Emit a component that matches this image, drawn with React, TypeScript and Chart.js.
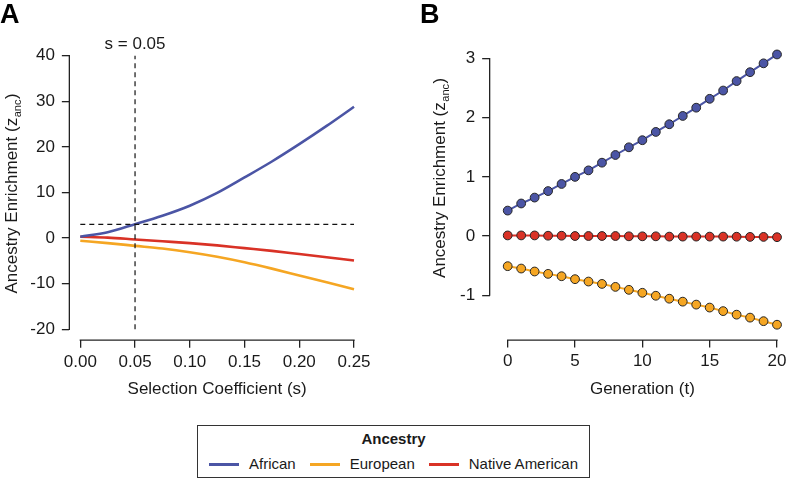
import React, { useEffect, useRef } from "react";
import { Chart, registerables } from "chart.js";

Chart.register(...registerables);

const FONT = "'Liberation Sans', Arial, Helvetica, sans-serif";
const TEXT = "#1a1a1a";
const AXIS = "#222222";

// Legend / series
const ANCESTRIES = ["African", "European", "Native American"];
const COLORS = ["#4B55A5", "#F5A623", "#D93226"];
const LEGEND_TITLE = "Ancestry";

// Panel A: enrichment vs selection coefficient
const SEL_COEF = [0, 0.025, 0.05, 0.075, 0.1, 0.125, 0.15, 0.175, 0.2, 0.225, 0.25];
const A_AFRICAN = [0.3, 1.3, 3.05, 4.9, 7.1, 9.9, 13.3, 16.8, 20.6, 24.6, 28.8];
const A_EUROPEAN = [-0.6, -1.1, -1.7, -2.3, -3.1, -4.1, -5.3, -6.7, -8.2, -9.7, -11.2];
const A_NATIVE = [0.3, 0.1, -0.3, -0.7, -1.1, -1.6, -2.2, -2.8, -3.5, -4.2, -4.9];
const S_THRESHOLD = 0.05;
const Z_THRESHOLD = 3;
const A_X_TICKS = [0, 0.05, 0.1, 0.15, 0.2, 0.25];
const A_Y_TICKS = [-20, -10, 0, 10, 20, 30, 40];
const A_X_TITLE = "Selection Coefficient (s)";
const S_LABEL = "s = 0.05";

// Panel B: enrichment vs generation
const GENERATIONS = [0, 1, 2, 3, 4, 5, 6, 7, 8, 9, 10, 11, 12, 13, 14, 15, 16, 17, 18, 19, 20];
const B_AFRICAN = [0.43, 0.55, 0.65, 0.76, 0.88, 1.0, 1.11, 1.24, 1.37, 1.5, 1.62, 1.76, 1.89, 2.03, 2.17, 2.32, 2.46, 2.62, 2.77, 2.92, 3.07];
const B_EUROPEAN = [-0.51, -0.55, -0.6, -0.64, -0.68, -0.73, -0.77, -0.81, -0.86, -0.91, -0.96, -1.01, -1.06, -1.11, -1.16, -1.21, -1.27, -1.33, -1.38, -1.44, -1.5];
const B_NATIVE = [0.01, 0.01, 0.01, 0.005, 0.005, 0, 0, 0, 0, -0.005, -0.005, -0.005, -0.01, -0.01, -0.01, -0.01, -0.01, -0.012, -0.015, -0.015, -0.02];
const B_X_TICKS = [0, 5, 10, 15, 20];
const B_Y_TICKS = [-1, 0, 1, 2, 3];
const B_X_TITLE = "Generation (t)";

const Y_TITLE_MAIN = "Ancestry Enrichment (z";
const Y_TITLE_SUB = "anc";
const Y_TITLE_END = ")";

function pts(xs: number[], ys: number[]) {
  return xs.map((x, i) => ({ x, y: ys[i] }));
}

function decorPlugin(o: {
  id: string;
  letter: string;
  letterX: number;
  yTitleX: number;
  xTitle: string;
  xTicks: number[];
  yTicks: number[];
  extra?: (chart: any) => void;
}) {
  return {
    id: o.id,
    afterDraw(chart: any) {
      const ctx = chart.ctx as CanvasRenderingContext2D;
      const ca = chart.chartArea;
      const xs = chart.scales.x;
      const ys = chart.scales.y;
      ctx.save();
      // axis lines over tick span
      ctx.strokeStyle = AXIS;
      ctx.lineWidth = 1.3;
      ctx.lineCap = "square";
      ctx.beginPath();
      ctx.moveTo(ca.left, ys.getPixelForValue(o.yTicks[0]));
      ctx.lineTo(ca.left, ys.getPixelForValue(o.yTicks[o.yTicks.length - 1]));
      ctx.stroke();
      ctx.beginPath();
      ctx.moveTo(xs.getPixelForValue(o.xTicks[0]), ca.bottom);
      ctx.lineTo(xs.getPixelForValue(o.xTicks[o.xTicks.length - 1]), ca.bottom);
      ctx.stroke();

      ctx.fillStyle = TEXT;
      // x title
      const xc = (xs.getPixelForValue(o.xTicks[0]) + xs.getPixelForValue(o.xTicks[o.xTicks.length - 1])) / 2;
      ctx.font = `17px ${FONT}`;
      ctx.textAlign = "center";
      ctx.textBaseline = "alphabetic";
      ctx.fillText(o.xTitle, xc, 393.5);

      // y title with subscript
      const yc = (ys.getPixelForValue(o.yTicks[0]) + ys.getPixelForValue(o.yTicks[o.yTicks.length - 1])) / 2 + 1;
      ctx.save();
      ctx.translate(o.yTitleX, yc);
      ctx.rotate(-Math.PI / 2);
      ctx.textAlign = "left";
      ctx.font = `17px ${FONT}`;
      const w1 = ctx.measureText(Y_TITLE_MAIN).width;
      const w3 = ctx.measureText(Y_TITLE_END).width;
      ctx.font = `11px ${FONT}`;
      const w2 = ctx.measureText(Y_TITLE_SUB).width;
      const start = -(w1 + w2 + w3 + 1) / 2;
      ctx.font = `17px ${FONT}`;
      ctx.fillText(Y_TITLE_MAIN, start, 0);
      ctx.font = `11px ${FONT}`;
      ctx.fillText(Y_TITLE_SUB, start + w1 + 0.5, 4);
      ctx.font = `17px ${FONT}`;
      ctx.fillText(Y_TITLE_END, start + w1 + w2 + 1, 0);
      ctx.restore();

      // panel letter
      ctx.font = `bold 27px ${FONT}`;
      ctx.textAlign = "left";
      ctx.textBaseline = "alphabetic";
      ctx.fillStyle = "#000";
      ctx.fillText(o.letter, o.letterX, 22.5);

      if (o.extra) o.extra(chart);
      ctx.restore();
    },
  };
}

function makeScale(opts: {
  min: number;
  max: number;
  ticks: number[];
  fmt: (v: number) => string;
  size: number;
  isX: boolean;
  padding: number;
}) {
  return {
    type: "linear" as const,
    min: opts.min,
    max: opts.max,
    afterBuildTicks: (scale: any) => {
      scale.ticks = opts.ticks.map((v) => ({ value: v }));
    },
    afterFit: (scale: any) => {
      if (opts.isX) scale.height = opts.size;
      else scale.width = opts.size;
    },
    grid: {
      display: true,
      drawOnChartArea: false,
      drawTicks: true,
      tickLength: 7.5,
      color: AXIS,
      lineWidth: 1.3,
    },
    border: { display: false },
    ticks: {
      autoSkip: false,
      maxRotation: 0,
      minRotation: 0,
      padding: opts.padding,
      color: TEXT,
      font: { family: FONT, size: 17 },
      callback: (v: any) => opts.fmt(Number(v)),
    },
  };
}

const A_W = 400;
const A_H = 410;
const B_W = 420;
const B_H = 410;

export default function App() {
  const refA = useRef<HTMLCanvasElement | null>(null);
  const refB = useRef<HTMLCanvasElement | null>(null);

  useEffect(() => {
    if (!refA.current || !refB.current) return;

    const seriesA = [A_AFRICAN, A_EUROPEAN, A_NATIVE];
    const chartA = new Chart(refA.current, {
      type: "line",
      data: {
        datasets: [
          {
            label: "s threshold",
            data: [
              { x: S_THRESHOLD, y: A_Y_TICKS[0] },
              { x: S_THRESHOLD, y: A_Y_TICKS[A_Y_TICKS.length - 1] },
            ],
            borderColor: "#111",
            borderWidth: 1.2,
            borderDash: [5, 4],
            pointRadius: 0,
            order: 0,
          },
          {
            label: "z threshold",
            data: [
              { x: A_X_TICKS[0], y: Z_THRESHOLD },
              { x: A_X_TICKS[A_X_TICKS.length - 1], y: Z_THRESHOLD },
            ],
            borderColor: "#111",
            borderWidth: 1.2,
            borderDash: [5, 4],
            pointRadius: 0,
            order: 0,
          },
          ...seriesA.map((ys, i) => ({
            label: ANCESTRIES[i],
            data: pts(SEL_COEF, ys),
            borderColor: COLORS[i],
            borderWidth: 2.6,
            pointRadius: 0,
            cubicInterpolationMode: "monotone" as const,
            order: 1,
          })),
        ],
      },
      options: {
        responsive: false,
        animation: false,
        events: [],
        layout: { padding: { left: 0, top: 44.8, right: A_W - 364.95, bottom: 0 } },
        plugins: { legend: { display: false }, tooltip: { enabled: false } },
        scales: {
          x: makeScale({
            min: -0.01,
            max: 0.26,
            ticks: A_X_TICKS,
            fmt: (v) => v.toFixed(2),
            size: A_H - 340.2,
            isX: true,
            padding: 4,
          }),
          y: makeScale({
            min: -22.4,
            max: 42.4,
            ticks: A_Y_TICKS,
            fmt: (v) => String(v),
            size: 69.35,
            isX: false,
            padding: 7,
          }),
        },
      },
      plugins: [
        decorPlugin({
          id: "decorA",
          letter: "A",
          letterX: 0,
          yTitleX: 16.5,
          xTitle: A_X_TITLE,
          xTicks: A_X_TICKS,
          yTicks: A_Y_TICKS,
          extra: (chart: any) => {
            const ctx = chart.ctx as CanvasRenderingContext2D;
            ctx.font = `17px ${FONT}`;
            ctx.fillStyle = TEXT;
            ctx.textAlign = "center";
            ctx.textBaseline = "alphabetic";
            ctx.fillText(S_LABEL, chart.scales.x.getPixelForValue(S_THRESHOLD), 48.5);
          },
        }),
      ],
    } as any);

    const seriesB = [B_AFRICAN, B_EUROPEAN, B_NATIVE];
    const chartB = new Chart(refB.current, {
      type: "line",
      data: {
        datasets: seriesB.map((ys, i) => ({
          label: ANCESTRIES[i],
          data: pts(GENERATIONS, ys),
          borderColor: COLORS[i],
          borderWidth: 2,
          pointRadius: 4.4,
          pointBorderWidth: 1,
          pointBorderColor: "#262626",
          pointBackgroundColor: COLORS[i],
          tension: 0,
        })),
      },
      options: {
        responsive: false,
        animation: false,
        events: [],
        layout: { padding: { left: 0, top: 16.3, right: B_W - 395.05, bottom: 0 } },
        plugins: { legend: { display: false }, tooltip: { enabled: false } },
        scales: {
          x: makeScale({
            min: -1.34,
            max: 21.34,
            ticks: B_X_TICKS,
            fmt: (v) => String(v),
            size: B_H - 340.1,
            isX: true,
            padding: 4,
          }),
          y: makeScale({
            min: -1.76,
            max: 3.7,
            ticks: B_Y_TICKS,
            fmt: (v) => String(v),
            size: 89.66,
            isX: false,
            padding: 7,
          }),
        },
      },
      plugins: [
        decorPlugin({
          id: "decorB",
          letter: "B",
          letterX: 20,
          yTitleX: 45,
          xTitle: B_X_TITLE,
          xTicks: B_X_TICKS,
          yTicks: B_Y_TICKS,
        }),
      ],
    } as any);

    return () => {
      chartA.destroy();
      chartB.destroy();
    };
  }, []);

  return (
    <div
      style={{
        position: "absolute",
        left: 0,
        top: 0,
        width: 787,
        height: 478,
        overflow: "hidden",
        background: "#fff",
        fontFamily: FONT,
      }}
    >
      <canvas
        ref={refA}
        width={A_W}
        height={A_H}
        style={{ position: "absolute", left: 0, top: 0, display: "block" }}
      />
      <div style={{ position: "absolute", left: 400, top: 0, width: 387, height: B_H, overflow: "hidden" }}>
        <canvas ref={refB} width={B_W} height={B_H} style={{ position: "absolute", left: 0, top: 0, display: "block" }} />
      </div>
      <div
        style={{
          position: "absolute",
          left: 197,
          top: 425,
          width: 393,
          height: 53,
          boxSizing: "border-box",
          border: "1.5px solid #333",
          color: TEXT,
        }}
      >
        <div
          style={{
            position: "absolute",
            left: 0,
            right: 0,
            top: 5,
            textAlign: "center",
            fontWeight: "bold",
            fontSize: 15,
            lineHeight: "16px",
          }}
        >
          {LEGEND_TITLE}
        </div>
        <div
          style={{
            position: "absolute",
            left: 0,
            right: 0,
            top: 29,
            height: 18,
            display: "flex",
            justifyContent: "center",
            alignItems: "center",
            fontSize: 15,
            lineHeight: "18px",
          }}
        >
          {ANCESTRIES.map((name, i) => (
            <div key={name} style={{ display: "flex", alignItems: "center", marginLeft: i === 0 ? 0 : 14 }}>
              <div style={{ width: 30, height: 3, background: COLORS[i], marginRight: 10 }} />
              <span>{name}</span>
            </div>
          ))}
        </div>
      </div>
    </div>
  );
}
